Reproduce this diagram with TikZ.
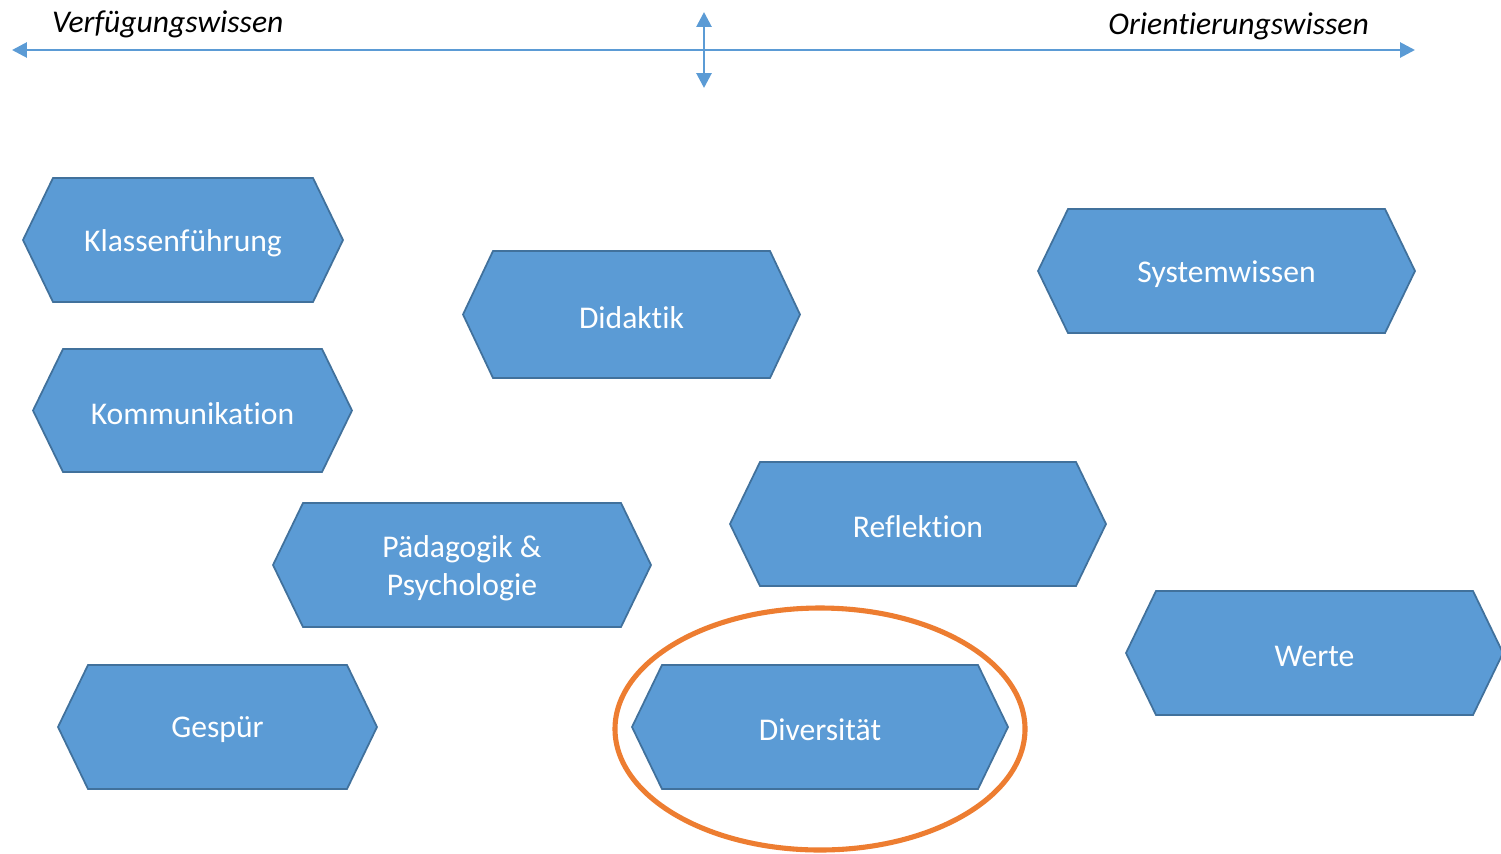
\documentclass[tikz,border=0pt]{standalone}
\usepackage{fontspec}
\setmainfont{Carlito}[Ligatures=NoCommon]
\usepackage{xcolor}
\usetikzlibrary{arrows.meta,positioning}
\definecolor{fillblue}{HTML}{5B9BD5}
\definecolor{edgeblue}{HTML}{41719C}
\definecolor{axisblue}{HTML}{5B9BD5}
\definecolor{hilite}{HTML}{ED7D31}
\tikzset{
  hexline/.style={draw=edgeblue,fill=fillblue,line width=1pt,line join=miter},
  hexlabel/.style={text=white,align=center,font=\fontsize{18}{21.5}\selectfont},
  axisline/.style={axisblue,line width=1.6pt,{Triangle[length=8.5pt,width=8.5pt]}-{Triangle[length=8.5pt,width=8.5pt]}},
  poltext/.style={font=\fontsize{18}{21.5}\selectfont\itshape},
}
% hexagon box: name, left x, right x, top y, bottom y, text
\newcommand{\hexbox}[6]{%
  \draw[hexline] (#2,{(#4+#5)/2}) -- (#2+30,#4) -- (#3-30,#4) -- (#3,{(#4+#5)/2})
    -- (#3-30,#5) -- (#2+30,#5) -- cycle;
  \node[hexlabel] (#1) at ({(#2+#3)/2},{(#4+#5)/2+3}) {#6};}

\begin{document}
\begin{tikzpicture}[x=0.02cm,y=-0.02cm]
\useasboundingbox (0,0) rectangle (1501,853);
% axis from Verfuegungswissen to Orientierungswissen
\coordinate (left) at (12,50);
\coordinate (right) at (1415,50);
\coordinate (up) at (704,12);
\coordinate (down) at (704,88);
\draw[axisline] (left) -- (right);
\draw[axisline] (down) -- (up);
\node[poltext,anchor=west] (verf) at (46,24) {Verfügungswissen};
\node[poltext,anchor=east] (orient) at (1375,26) {Orientierungswissen};
% the fields
\hexbox{klasse}{23}{343}{178}{302}{Klassenführung}
\hexbox{didaktik}{463}{800}{251}{378}{Didaktik}
\hexbox{system}{1038}{1415}{209}{333}{Systemwissen}
\hexbox{komm}{33}{352}{349}{472}{Kommunikation}
\hexbox{reflex}{730}{1106}{462}{586}{Reflektion}
\hexbox{paed}{273}{651}{503}{627}{Pädagogik \&\\Psychologie}
\hexbox{werte}{1126}{1503}{591}{715}{Werte}
\hexbox{gespuer}{58}{377}{665}{789}{Gespür}
\hexbox{divers}{632}{1008}{665}{789}{Diversität}
% highlight
\draw[hilite,line width=2.9pt] (divers.center) ++(0,-1) ellipse [x radius=205,y radius=121];
\end{tikzpicture}
\end{document}
